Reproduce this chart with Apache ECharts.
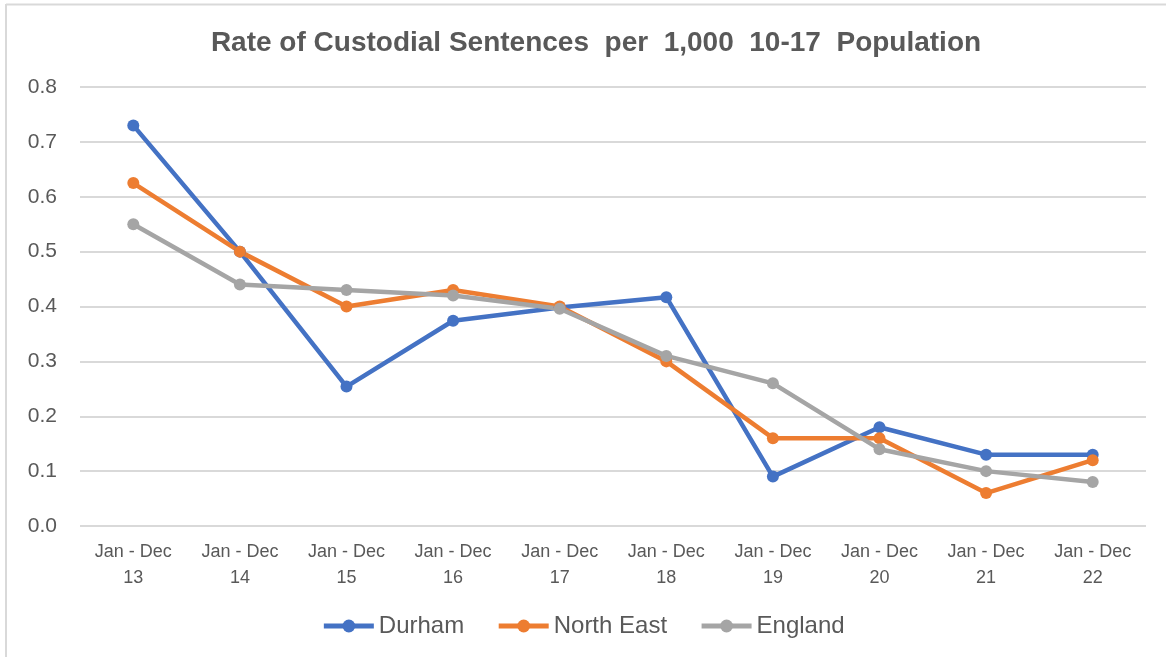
<!DOCTYPE html>
<html>
<head>
<meta charset="utf-8">
<script src="https://cdn.jsdelivr.net/npm/echarts@6/dist/echarts.min.js"></script>
<style>
  html, body { margin: 0; padding: 0; background: #fff; }
  #chart { width: 1166px; height: 657px; }
</style>
</head>
<body>
<div id="chart"></div>
<script>
// Periods shown on the category axis (two-line labels)
const periods = ['Jan - Dec\n13', 'Jan - Dec\n14', 'Jan - Dec\n15', 'Jan - Dec\n16', 'Jan - Dec\n17',
                 'Jan - Dec\n18', 'Jan - Dec\n19', 'Jan - Dec\n20', 'Jan - Dec\n21', 'Jan - Dec\n22'];

// Custodial sentences per 1,000 of the 10-17 population
const durham    = [0.73, 0.50, 0.254, 0.374, 0.398, 0.417, 0.09, 0.18, 0.13, 0.13];
const northEast = [0.625, 0.50, 0.40, 0.43, 0.40, 0.30, 0.16, 0.16, 0.06, 0.12];
const england   = [0.55, 0.44, 0.43, 0.42, 0.396, 0.31, 0.26, 0.14, 0.10, 0.08];

const seriesNames = ['Durham', 'North East', 'England'];
const seriesColors = ['#4472C4', '#ED7D31', '#A5A5A5'];

const textColor = '#595959';
const font = 'Liberation Sans, Arial, sans-serif';

function lineSeries(name, data, color) {
  return {
    name: name,
    type: 'line',
    data: data,
    symbol: 'circle',
    symbolSize: 12,
    lineStyle: { width: 4.5, color: color },
    itemStyle: { color: color },
    emphasis: { disabled: true }
  };
}

const chart = echarts.init(document.getElementById('chart'), null, { renderer: 'canvas' });
chart.setOption({
  animation: false,
  backgroundColor: '#ffffff',
  title: {
    text: 'Rate of Custodial Sentences  per  1,000  10-17  Population',
    left: 591,
    textAlign: 'center',
    top: 24,
    textStyle: { color: textColor, fontFamily: font, fontSize: 28, fontWeight: 'bold' }
  },
  graphic: [
    { type: 'line', shape: { x1: 6, y1: 4.5, x2: 1166, y2: 4.5 }, style: { stroke: '#d9d9d9', lineWidth: 2 } },
    { type: 'line', shape: { x1: 6, y1: 4, x2: 6, y2: 657 }, style: { stroke: '#d9d9d9', lineWidth: 2 } }
  ],
  legend: {
    data: seriesNames,
    top: 609,
    left: 'center',
    itemWidth: 50,
    itemHeight: 16,
    itemGap: 32,
    lineStyle: { width: 5 },
    textStyle: { color: textColor, fontFamily: font, fontSize: 24 }
  },
  grid: { left: 80, right: 20, top: 87, bottom: 131, containLabel: false },
  xAxis: {
    type: 'category',
    data: periods,
    boundaryGap: true,
    axisLine: { show: false },
    axisTick: { show: false },
    axisLabel: {
      color: textColor, fontFamily: font, fontSize: 18, lineHeight: 26,
      margin: 13, interval: 0
    }
  },
  yAxis: {
    type: 'value',
    min: 0,
    max: 0.8,
    interval: 0.1,
    axisLine: { show: false },
    axisTick: { show: false },
    splitLine: { lineStyle: { color: '#d9d9d9', width: 2 } },
    axisLabel: {
      color: textColor, fontFamily: font, fontSize: 21, margin: 23,
      formatter: v => v.toFixed(1)
    }
  },
  series: [
    lineSeries(seriesNames[0], durham, seriesColors[0]),
    lineSeries(seriesNames[1], northEast, seriesColors[1]),
    lineSeries(seriesNames[2], england, seriesColors[2])
  ]
});
</script>
</body>
</html>
